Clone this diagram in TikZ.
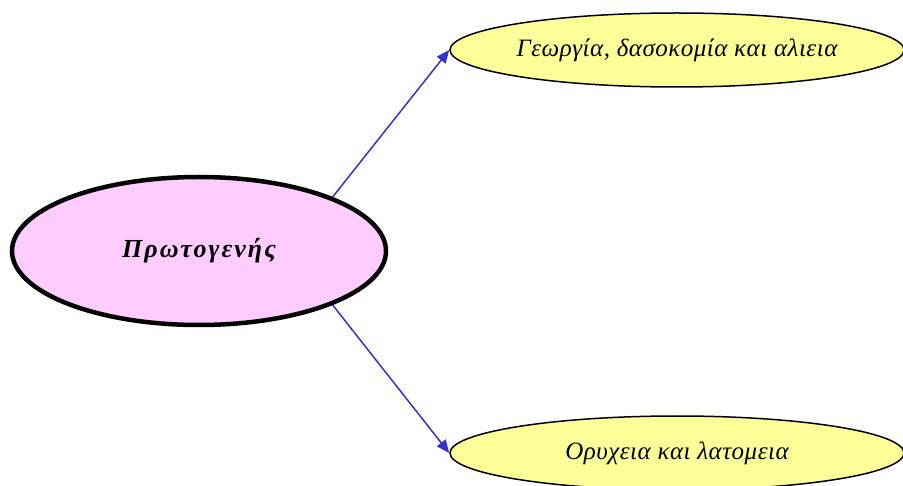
\documentclass[tikz,border=0pt]{standalone}
\usepackage{fontspec}
\setmainfont{Liberation Serif}
\newfontfamily\mainbold[LetterSpace=8]{Liberation Serif}
\newfontfamily\subfont[LetterSpace=2]{Liberation Serif}
\usetikzlibrary{shapes.geometric,arrows.meta}
\definecolor{pinkfill}{HTML}{FFCCFF}
\definecolor{yelfill}{HTML}{FFFF99}
\definecolor{arrblue}{HTML}{3333CC}
\tikzset{
  mainell/.style={ellipse,draw=black,line width=4.5pt,fill=pinkfill,minimum width=374pt,minimum height=148pt,inner sep=0pt},
  subell/.style={ellipse,draw=black,line width=1.5pt,fill=yelfill,minimum width=454pt,minimum height=74pt,inner sep=0pt,font=\fontsize{25}{28}\subfont\itshape},
  conn/.style={draw=arrblue,line width=1.5pt,-{Triangle[length=13pt,width=11pt]}}
}
\begin{document}
\begin{tikzpicture}[x=1pt,y=-1pt]
\useasboundingbox (0,0) rectangle (903,486);
\node[mainell] (main) at (199,251) {\fontsize{26}{30}\mainbold\bfseries\itshape Πρωτογενής};
\node[subell] (top) at (677,50) {Γεωργία, δασοκομία και αλιεια};
\node[subell] (bot) at (677,453) {Ορυχεια και λατομεια};
\draw[conn] (main.22) -- (top.west);
\draw[conn] (main.-22) -- (bot.west);
\end{tikzpicture}
\end{document}
